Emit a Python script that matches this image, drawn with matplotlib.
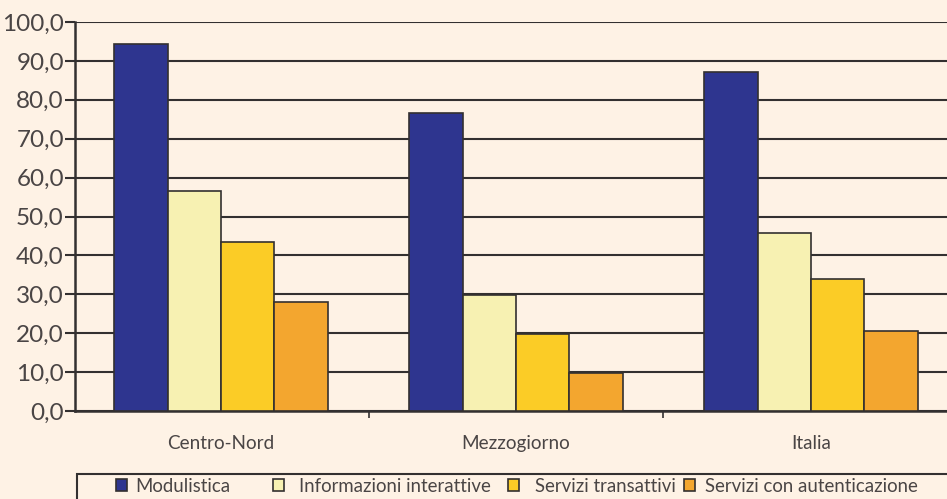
import matplotlib
matplotlib.use("Agg")
import matplotlib.pyplot as plt
from matplotlib.patches import Patch, Rectangle
import numpy as np

categories = ["Centro-Nord", "Mezzogiorno", "Italia"]
series_names = ["Modulistica", "Informazioni interattive", "Servizi transattivi", "Servizi con autenticazione"]
modulistica = [94.3, 76.6, 87.1]
informazioni = [56.6, 29.8, 45.8]
transattivi = [43.4, 19.8, 33.9]
autenticazione = [28.0, 9.8, 20.6]
yticks = [0, 10, 20, 30, 40, 50, 60, 70, 80, 90, 100]
ytick_labels = ["0,0", "10,0", "20,0", "30,0", "40,0", "50,0", "60,0", "70,0", "80,0", "90,0", "100,0"]

colors = ["#2E358F", "#F7F1B2", "#FBCC26", "#F3A62F"]
bg = "#FEF2E5"
dark = "#333030"
txt = "#4A4545"

plt.rcParams['font.family'] = ['Lato', 'DejaVu Sans']
plt.rcParams['font.weight'] = 'normal'

fig = plt.figure(figsize=(9.47, 4.99), dpi=100, facecolor=bg)
ax = fig.add_axes([75/947, 1-411/499, (957-75)/947, 389/499])
ax.set_facecolor(bg)

x = np.arange(len(categories))
w = 0.181
data = [modulistica, informazioni, transattivi, autenticazione]
for i, vals in enumerate(data):
    ax.bar(x + (i - 1.5) * w, vals, width=w, color=colors[i], edgecolor=dark,
           linewidth=1.2, zorder=3)

ax.set_ylim(0, 100)
ax.set_xlim(-0.495, 2.495)
ax.set_yticks(yticks)
ax.set_yticklabels(ytick_labels, fontsize=17.5, color=txt)
ax.yaxis.grid(True, color=dark, linewidth=1.5, zorder=0)
ax.set_axisbelow(True)

ax.set_xticks(x)
ax.set_xticklabels(categories, fontsize=13.6, color=txt)
ax.set_xticks([0.5, 1.5], minor=True)
ax.tick_params(axis='x', which='major', length=0, pad=17)
ax.tick_params(axis='x', which='minor', length=5, width=1.2, color=dark)
ax.tick_params(axis='y', length=7, width=1.5, color=dark, pad=1)

for s in ['top', 'right']:
    ax.spines[s].set_visible(False)
for s in ['left', 'bottom']:
    ax.spines[s].set_color(dark)
    ax.spines[s].set_linewidth(1.8)

# legend frame
fig.add_artist(Rectangle((77/947, -0.05), 1.0, 1-474/499 + 0.05,
                         transform=fig.transFigure, facecolor=bg,
                         edgecolor=dark, linewidth=1.5))

fs = 13.4
fs_px = fs * 100 / 72
marker_x = [116, 273, 508, 684]
text_x = [136, 300, 536, 706]
hl = 11 / fs_px
for i in range(4):
    h = Patch(facecolor=colors[i], edgecolor=dark, linewidth=1.2)
    pad = (text_x[i] - marker_x[i] - 11 - 1) / fs_px
    leg = fig.legend([h], [series_names[i]], loc='center left',
                     bbox_to_anchor=(marker_x[i]/947, 1-486/499), frameon=False,
                     fontsize=fs, handlelength=hl, handleheight=hl,
                     handletextpad=pad, borderpad=0, borderaxespad=0)
    for t in leg.get_texts():
        t.set_color(txt)

fig.savefig("out.png", dpi=100, facecolor=bg)
